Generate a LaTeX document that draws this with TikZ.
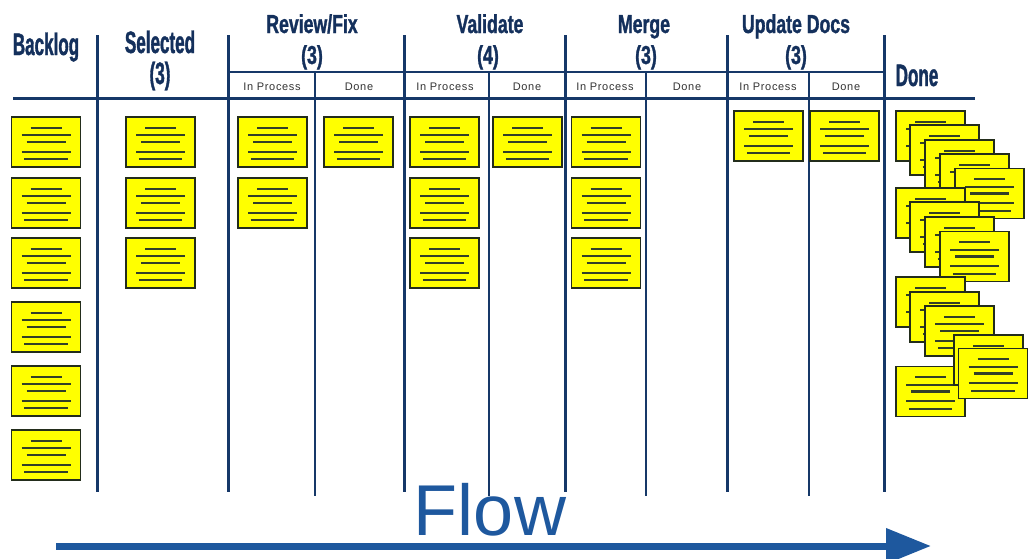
\documentclass[tikz,border=0pt]{standalone}
\usepackage{fontspec}
\setmainfont{Liberation Sans}
\newfontfamily\headfont[FakeStretch=0.68,FakeBold=1.2]{Liberation Sans}
\newfontfamily\sideheadfont[FakeStretch=0.55,FakeBold=1.2]{Liberation Sans}
\newfontfamily\subfont[LetterSpace=6]{Liberation Sans}
\usetikzlibrary{arrows.meta}
\definecolor{boardnavy}{RGB}{22,56,104}
\definecolor{headnavy}{RGB}{20,48,92}
\definecolor{flowblue}{RGB}{30,88,158}
\definecolor{noteyellow}{RGB}{255,255,0}
\definecolor{noteline}{RGB}{50,64,40}
\tikzset{
  note/.pic={
    \draw[noteline!70!black,line width=1.8pt,fill=noteyellow] (-34.5,-25) rectangle (34.5,25);
    \foreach \dy/\hw in {-14.3/15.5,-6.7/24.5,0/19.5,9.7/24.5,17.3/21.7}
      \draw[noteline,line width=2.2pt] (-\hw,\dy) -- (\hw,\dy);
  },
  tophead/.style={anchor=base,text=headnavy,font=\headfont\bfseries\fontsize{26}{26}\selectfont,inner sep=0pt},
  sidehead/.style={anchor=base,text=headnavy,font=\sideheadfont\bfseries\fontsize{31}{31}\selectfont,inner sep=0pt},
  sublabel/.style={anchor=base,text=black!80,font=\subfont\fontsize{11}{11}\selectfont,inner sep=0pt},
  major/.style={boardnavy,line width=3pt},
  minor/.style={boardnavy,line width=1.5pt}
}
\begin{document}
\begin{tikzpicture}[x=1pt,y=-1pt]
\useasboundingbox (0,0) rectangle (1028,558);
% board lines
\draw[major] (13,98) -- (975,98);
\draw[minor] (228,72) -- (884,72);
\foreach \x in {97,228,404,565,727,884}
  \draw[major] (\x,35) -- (\x,492);
\foreach \x in {315,489,646,809}
  \draw[minor] (\x,72) -- (\x,496);
% column heads
\node[sidehead] (backlog) at (46,55) {Backlog};
\node[sidehead] (selected) at (160,53) {Selected};
\node[sidehead] (selectedlim) at (160,84) {(3)};
\node[tophead] (review) at (312,33) {Review/Fix};
\node[tophead] (reviewlim) at (312,64) {(3)};
\node[tophead] (validate) at (490,33) {Validate};
\node[tophead] (validatelim) at (488,64) {(4)};
\node[tophead] (merge) at (644,33) {Merge};
\node[tophead] (mergelim) at (646,64) {(3)};
\node[tophead] (docs) at (796,33) {Update Docs};
\node[tophead] (docslim) at (796,64) {(3)};
\node[sidehead] (done) at (917,86) {Done};
% sub columns
\foreach \x/\name in {272/rev,445/val,605/mrg,768/doc}
  \node[sublabel] (\name wip) at (\x,90) {In Process};
\foreach \x/\name in {359/rev,527/val,687/mrg,846/doc}
  \node[sublabel] (\name done) at (\x,90) {Done};
% cards
\foreach \y in {142,203,263,327,391,455}
  \pic at (46,\y) {note};
\foreach \y in {142,203,263}
  \pic at (160.5,\y) {note};
\foreach \y in {142,203}
  \pic at (272.5,\y) {note};
\pic at (358.5,142) {note};
\foreach \y in {142,203,263}
  \pic at (444.5,\y) {note};
\pic at (527.5,142) {note};
\foreach \y in {142,203,263}
  \pic at (606,\y) {note};
\pic at (768.5,136) {note};
\pic at (844.5,136) {note};
% done pile
\pic at (930.5,391.5) {note};
\foreach \x/\y in {930.5/136,944.5/150,959.5/165,974.5/179,989.5/193.5,
    930.5/213,944.5/227,959.5/242,974.5/256.5,
    930.5/302,944.5/317,959.5/331,988.5/360,993/373.5}
  \pic at (\x,\y) {note};
% flow
\node[anchor=base,text=flowblue,font=\fontsize{72}{72}\selectfont,inner sep=0pt] (flow) at (490,535) {Flow};
\coordinate (flowstart) at (56,546);
\coordinate (flowend) at (931,546);
\draw[flowblue,line width=7pt,-{Triangle[length=45pt,width=34pt]}] (flowstart) -- (flowend);
\end{tikzpicture}
\end{document}
